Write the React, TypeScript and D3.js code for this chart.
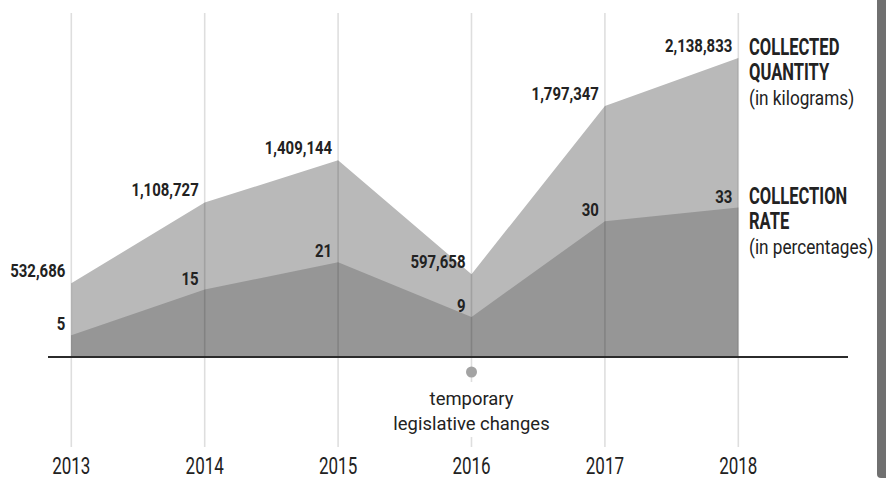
import React, { useEffect, useRef } from "react";
import * as d3 from "d3";

const years = ["2013", "2014", "2015", "2016", "2017", "2018"];
const collectedQuantity = [532686, 1108727, 1409144, 597658, 1797347, 2138833];
const collectionRate = [5, 15, 21, 9, 30, 33];
const noteYear = "2016";
const noteLines = ["temporary", "legislative changes"];
const legendQuantity = ["COLLECTED", "QUANTITY", "(in kilograms)"];
const legendRate = ["COLLECTION", "RATE", "(in percentages)"];

const FONT = "Roboto, 'Liberation Sans', sans-serif";
const INK = "#222";

export default function App() {
  const ref = useRef<SVGSVGElement>(null);

  useEffect(() => {
    const width = 886;
    const height = 480;
    const base = 358;

    const svg = d3.select(ref.current).attr("width", width).attr("height", height);
    svg.selectAll("*").remove();

    const x = d3.scalePoint<string>().domain(years).range([71.3, 738.3]);
    const yQ = d3.scaleLinear().domain([0, 2138833]).range([base, 58]);
    const yR = d3.scaleLinear().domain([0, 33]).range([base, 207.5]);

    const areaQ = d3.area<number>()
      .x((d, i) => x(years[i])!)
      .y0(base)
      .y1(d => yQ(d));
    const areaR = d3.area<number>()
      .x((d, i) => x(years[i])!)
      .y0(base)
      .y1(d => yR(d));

    svg.append("path").datum(collectedQuantity).attr("d", areaQ).attr("fill", "#b9b9b9");
    svg.append("path").datum(collectionRate).attr("d", areaR).attr("fill", "#969696");

    // gridlines
    svg.selectAll(".grid").data(years).join("line").attr("class", "grid")
      .attr("x1", d => x(d)!).attr("x2", d => x(d)!)
      .attr("y1", 13).attr("y2", 447)
      .attr("stroke", "rgba(0,0,0,0.13)").attr("stroke-width", 1.6);

    // baseline
    svg.append("line").attr("x1", 48).attr("x2", 848).attr("y1", 357).attr("y2", 357)
      .attr("stroke", "#2b2b2b").attr("stroke-width", 2);

    // condensed text: squeeze glyphs horizontally around the anchor point
    const label = (g: any, size: number, weight: string, anchor: string, sx: number) =>
      g.attr("transform", (d: any) => `translate(${d.x},${d.y}) scale(${sx},1)`)
        .append("text")
        .attr("text-anchor", anchor).attr("font-family", FONT)
        .attr("font-size", size).attr("font-weight", weight)
        .attr("fill", INK).text((d: any) => d.t);

    // annotation
    const nx = x(noteYear)!;
    svg.append("rect").attr("x", nx - 4).attr("y", 382).attr("width", 8).attr("height", 55).attr("fill", "#fff");
    svg.append("circle").attr("cx", nx).attr("cy", 372).attr("r", 5.5).attr("fill", "#a3a3a3");
    label(svg.selectAll(".note").data(noteLines.map((t, i) => ({ t, x: nx, y: 405 + i * 25 })))
      .join("g").attr("class", "note"), 19, "normal", "middle", 0.97);

    // value labels
    const fmt = d3.format(",");
    label(svg.selectAll(".qlab")
      .data(collectedQuantity.map((v, i) => ({ t: fmt(v), x: x(years[i])! - 6, y: yQ(v) - 6 })))
      .join("g").attr("class", "qlab"), 18, "bold", "end", 0.83);
    label(svg.selectAll(".rlab")
      .data(collectionRate.map((v, i) => ({ t: String(v), x: x(years[i])! - 6, y: yR(v) - 5 })))
      .join("g").attr("class", "rlab"), 18, "bold", "end", 0.83);

    // year labels
    label(svg.selectAll(".year").data(years.map(t => ({ t, x: x(t)!, y: 474 })))
      .join("g").attr("class", "year"), 23, "normal", "middle", 0.74);

    // legend
    const legend = (lines: string[], top: number) => {
      lines.forEach((t, i) => {
        const g = svg.append("g").datum({ t, x: 749, y: top + i * 25 });
        if (i < 2) label(g, 23, "bold", "start", 0.72);
        else label(g, 20, "normal", "start", 0.86);
      });
    };
    legend(legendQuantity, 55);
    legend(legendRate, 204);

    // dark page edge
    svg.append("rect").attr("x", 877).attr("y", -10).attr("width", 20).attr("height", 488)
      .attr("rx", 4).attr("fill", "#707070");
  }, []);

  return <svg ref={ref} style={{ position: "absolute", left: 0, top: 0 }}></svg>;
}
